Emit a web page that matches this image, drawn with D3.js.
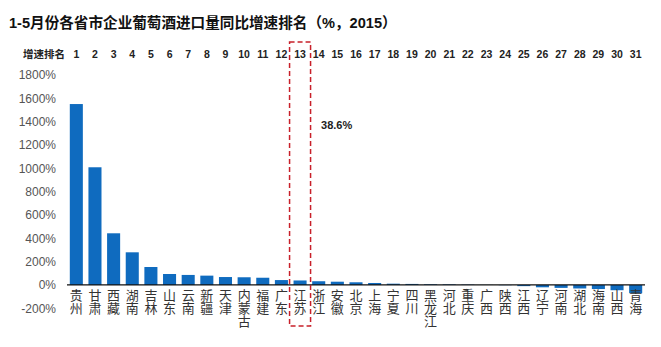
<!DOCTYPE html>
<html><head><meta charset="utf-8">
<script src="https://cdn.jsdelivr.net/npm/d3@7"></script>
<style>body{margin:0;background:#fff;font-family:Arial,"Liberation Sans","Noto Sans CJK SC",sans-serif;}</style>
</head><body><svg id="c" width="661" height="347"></svg>
<script>
const provinces = ["贵州","甘肃","西藏","湖南","吉林","山东","云南","新疆","天津","内蒙古","福建","广东","江苏","浙江","安徽","北京","上海","宁夏","四川","黑龙江","河北","重庆","广西","陕西","江西","辽宁","河南","湖北","海南","山西","青海"];
const growth = [1551,1009,443,280,154,94,86,80,68,66,62,42,38.6,32,28,23,17,11,9,6,5,3,1,-2,-10,-20,-25,-30,-35,-45,-70];
const ranks = d3.range(1,32);
const yTicks = [-200,0,200,400,600,800,1000,1200,1400,1600,1800];
const title = "1-5月份各省市企业葡萄酒进口量同比增速排名（%，2015）";
const highlight = "江苏";
const highlightLabel = "38.6%";

const svg = d3.select("#c");
const x = d3.scaleBand().domain(provinces).range([67,645]).paddingInner(0.3).paddingOuter(0.15);
const y = d3.scaleLinear().domain([-200,1800]).range([308.3,75]);
const cjk = '"Noto Sans CJK SC","Microsoft YaHei",sans-serif';

svg.append("text").attr("x",9).attr("y",28).attr("font-size",14.6).attr("font-weight","bold")
  .attr("font-family",'Arial,"Noto Sans CJK SC",sans-serif').attr("fill","#111").text(title);

// rank row
svg.append("text").attr("x",23).attr("y",58).attr("font-size",10.5).attr("font-weight","bold")
  .attr("font-family",cjk).attr("fill","#222").text("增速排名");
svg.append("g").selectAll("text").data(ranks).join("text")
  .attr("x",(d,i)=>x(provinces[i])+x.bandwidth()/2).attr("y",58)
  .attr("text-anchor","middle").attr("font-size",10.5).attr("font-weight","bold")
  .attr("font-family","Arial,sans-serif").attr("fill","#222").text(d=>d);

// y axis labels
const yAxis = d3.axisLeft(y).tickValues(yTicks).tickFormat(d=>d+"%").tickSize(0).tickPadding(0);
const ga = svg.append("g").attr("transform","translate(56,0)").call(yAxis);
ga.select(".domain").remove();
ga.selectAll("text").attr("font-size",12).attr("fill","#555").attr("font-family","Arial,sans-serif");

// bars
svg.append("g").selectAll("rect").data(growth).join("rect")
  .attr("x",(d,i)=>x(provinces[i])).attr("width",x.bandwidth())
  .attr("y",d=>y(Math.max(0,d))).attr("height",d=>Math.abs(y(d)-y(0)))
  .attr("fill","#0f6bbf");

// x axis line
svg.append("line").attr("x1",67).attr("x2",645).attr("y1",y(0)).attr("y2",y(0))
  .attr("stroke","#111").attr("stroke-width",1.2);

// vertical category labels
svg.append("g").selectAll("text").data(provinces).join("text")
  .attr("x",d=>x(d)+x.bandwidth()/2).attr("y",y(0)+4)
  .attr("font-family",cjk).attr("font-size",13).attr("fill","#333")
  .style("writing-mode","vertical-rl").style("text-orientation","upright")
  .text(d=>d);

// highlight box
const hx = x(highlight)+x.bandwidth()/2;
svg.append("rect").attr("x",hx-10.5).attr("y",42).attr("width",21).attr("height",284)
  .attr("fill","none").attr("stroke","#c8202a").attr("stroke-width",1.5).attr("stroke-dasharray","5,3");
svg.append("text").attr("x",hx+21).attr("y",129).attr("font-size",11).attr("font-weight","bold")
  .attr("font-family","Arial,sans-serif").attr("fill","#222").text(highlightLabel);
</script></body></html>
